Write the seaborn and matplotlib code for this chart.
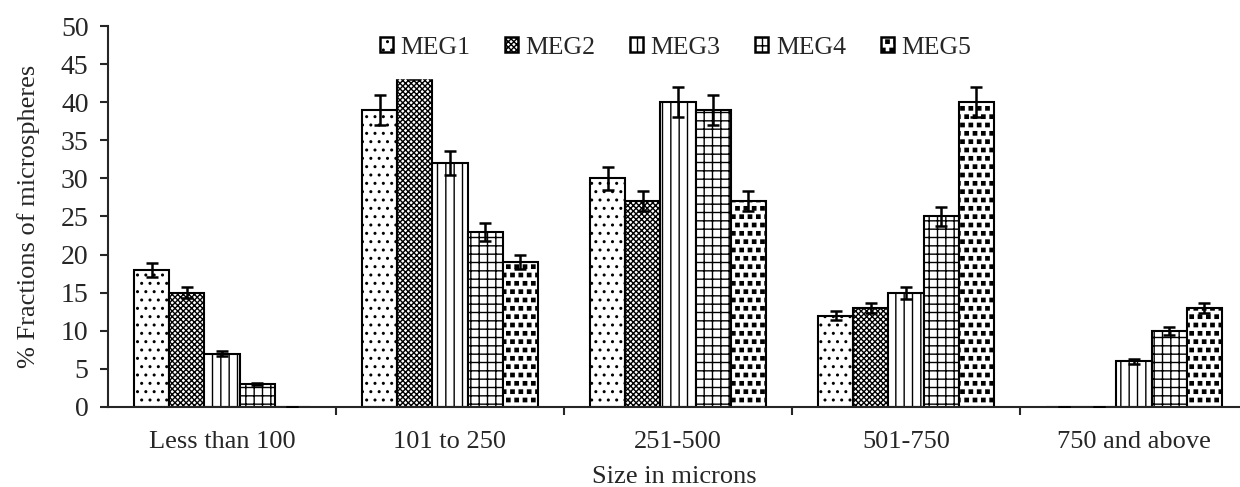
import numpy as np
import pandas as pd
import matplotlib
matplotlib.use('Agg')
import matplotlib.pyplot as plt
import matplotlib.hatch as mhatch
from matplotlib.path import Path
import seaborn as sns

# data
sizes = ['Less than 100', '101 to 250', '251-500', '501-750', '750 and above']
groups = ['MEG1', 'MEG2', 'MEG3', 'MEG4', 'MEG5']

meg1 = [18, 39, 30, 12, 0]
meg2 = [15, 45, 27, 13, 0]
meg3 = [7, 32, 40, 15, 6]
meg4 = [3, 23, 39, 25, 10]
meg5 = [0, 19, 27, 40, 13]

err1 = [0.9, 2.0, 1.5, 0.6, 0]
err2 = [0.7, 2.0, 1.3, 0.6, 0]
err3 = [0.3, 1.6, 2.0, 0.8, 0.3]
err4 = [0.15, 1.2, 2.0, 1.2, 0.5]
err5 = [0, 0.9, 1.3, 2.0, 0.6]

values = [meg1, meg2, meg3, meg4, meg5]
errors = [err1, err2, err3, err4, err5]

rows = []
for g, vals, errs in zip(groups, values, errors):
    for s, v, e in zip(sizes, vals, errs):
        rows.append({'size': s, 'group': g, 'value': v, 'err': e})
df = pd.DataFrame(rows)


# 'O' in a hatch string gives small filled squares instead of big circles
class SmallSquares(mhatch.Shapes):
    size = 0.2
    filled = True

    def __init__(self, hatch, density):
        self.num_rows = hatch.count('O') * density
        self.shape_vertices = np.array([[-1, -1], [1, -1], [1, 1], [-1, 1], [-1, -1]], float)
        self.shape_codes = np.array([Path.MOVETO, Path.LINETO, Path.LINETO,
                                     Path.LINETO, Path.CLOSEPOLY], dtype=Path.code_type)
        super().__init__(hatch, density)


mhatch._hatch_types = [SmallSquares if t is mhatch.LargeCircles else t
                       for t in mhatch._hatch_types]

sns.set_style('ticks')
plt.rcParams['font.family'] = ['Liberation Serif', 'DejaVu Serif']
plt.rcParams['hatch.linewidth'] = 1.0
plt.rcParams['hatch.color'] = 'black'

fig = plt.figure(figsize=(12.4, 4.87), dpi=100)
ax = fig.add_axes([0.0871, 0.1643, 0.9129, 0.7823])

sns.barplot(data=df, x='size', y='value', hue='group', order=sizes, hue_order=groups,
            palette=['white'] * 5, edgecolor='black', linewidth=1.5,
            width=0.77, errorbar=None, ax=ax, legend=True)

hatches = ['..', 'xxxxxx', '||', '++', 'OO']
for cont, h, errs in zip(ax.containers, hatches, errors):
    xs = []
    ys = []
    for bar in cont:
        bar.set_hatch(h)
        bar.set_facecolor('white')
        xs.append(bar.get_x() + bar.get_width() / 2)
        ys.append(bar.get_height())
    ax.errorbar(xs, ys, yerr=errs, fmt='none', ecolor='black', elinewidth=1.8,
                capsize=4.5, capthick=1.8, zorder=3)

ax.set_ylim(0, 50)
ax.set_yticks(range(0, 51, 5))
ax.set_xlim(-0.5, 4.465)
ax.set_xticks(range(5))
ax.set_xticklabels(sizes)
ax.set_xticks([0.5, 1.5, 2.5, 3.5], minor=True)
ax.tick_params(axis='x', which='major', length=0, pad=17, labelsize=19)
ax.tick_params(axis='x', which='minor', length=6, width=1.5, direction='out')
ax.tick_params(axis='y', length=6, width=1.5, labelsize=20, pad=8)
for side in ['top', 'right']:
    ax.spines[side].set_visible(False)
ax.spines['left'].set_linewidth(1.5)
ax.spines['bottom'].set_linewidth(1.5)

ax.set_xlabel('Size in microns', fontsize=19, labelpad=10)
ax.set_ylabel('% Fractions of microspheres', fontsize=19, labelpad=15)

leg = ax.legend(loc='lower left', bbox_to_anchor=(0.2230, 0.8635), borderaxespad=0,
                ncol=5, frameon=True, fontsize=18.5, handlelength=0.5, handleheight=0.5,
                handletextpad=0.3, columnspacing=1.35, borderpad=0.75)
leg.get_frame().set_edgecolor('white')
leg.get_frame().set_alpha(1)
leg.set_zorder(5)
for handle, h in zip(leg.legend_handles, hatches):
    handle.set_linewidth(1.8)
    handle.set_hatch(h)

fig.savefig('out.png', dpi=100)
